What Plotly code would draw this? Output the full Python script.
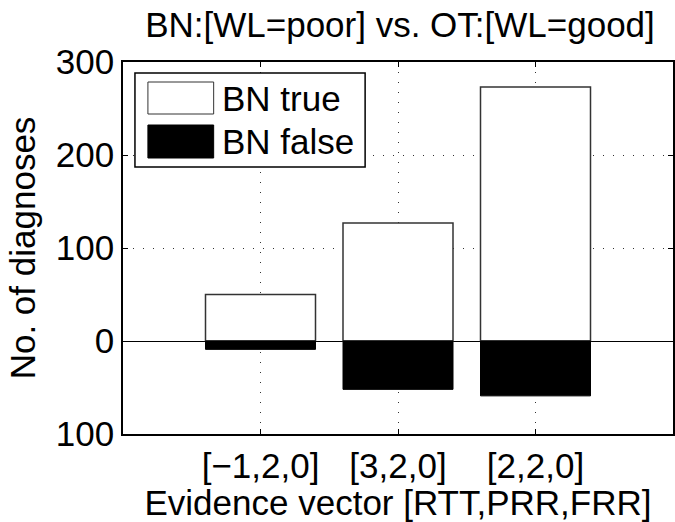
import plotly.graph_objects as go

# ---- data ----
categories = ["[\u22121,2,0]", "[3,2,0]", "[2,2,0]"]
x_positions = [1, 2, 3]
bn_true = [50, 127, 273]
bn_false = [-9, -52, -59]
y_tickvals = [-100, 0, 100, 200, 300]
y_ticktext = ["100", "0", "100", "200", "300"]
legend_labels = ["BN true", "BN false"]

# ---- layout constants (pixels) ----
W, H = 675, 522
L, R, T, B = 123, 0, 62, 88
FONT = "Liberation Sans, Arial, Helvetica, sans-serif"
FS = 35


def px(xp):
    return (xp - L) / (W - L - R)


def py(yp):
    return (H - B - yp) / (H - T - B)


fig = go.Figure()
fig.add_trace(go.Bar(
    x=x_positions, y=bn_true, width=0.8, name=legend_labels[0],
    marker=dict(color="white", line=dict(color="#333333", width=1.5)),
    showlegend=False,
))
fig.add_trace(go.Bar(
    x=x_positions, y=bn_false, width=0.8, name=legend_labels[1],
    marker=dict(color="black", line=dict(color="black", width=1)),
    showlegend=False,
))

fig.update_layout(
    width=W, height=H,
    margin=dict(l=L, r=R, t=T, b=B, pad=0),
    paper_bgcolor="white", plot_bgcolor="white",
    barmode="relative",
    font=dict(family=FONT, size=FS, color="black"),
    title=dict(text="BN:[WL=poor] vs. OT:[WL=good]", x=px(401), xref="paper",
               xanchor="center", y=1 - 25 / H, yref="container", yanchor="middle",
               font=dict(family=FONT, size=FS, color="black")),
)

fig.update_xaxes(
    range=[0, 4], tickvals=x_positions, ticktext=categories,
    showgrid=True, gridcolor="#333333", gridwidth=1, griddash="1px,9px",
    showline=True, linecolor="black", linewidth=1.5, mirror="ticks",
    ticks="inside", ticklen=5, tickwidth=1, tickcolor="black",
    zeroline=False,
    tickfont=dict(family=FONT, size=FS),
    title=dict(text="Evidence vector [RTT,PRR,FRR]", standoff=0,
               font=dict(family=FONT, size=FS)),
)
fig.update_yaxes(
    range=[-100, 300], tickvals=y_tickvals, ticktext=y_ticktext,
    showgrid=True, gridcolor="#333333", gridwidth=1, griddash="1px,9px",
    showline=True, linecolor="black", linewidth=1.5, mirror="ticks",
    ticks="inside", ticklen=5, tickwidth=1, tickcolor="black",
    zeroline=True, zerolinecolor="black", zerolinewidth=1,
    tickfont=dict(family=FONT, size=FS),
    title=dict(text="No. of diagnoses", standoff=10,
               font=dict(family=FONT, size=FS)),
)

# ---- legend drawn manually (MATLAB-style large swatches) ----
shapes = [
    dict(type="rect", xref="paper", yref="paper", x0=px(135), x1=px(366),
         y0=py(167), y1=py(73), line=dict(color="black", width=1.5),
         fillcolor="white", layer="above"),
    dict(type="rect", xref="paper", yref="paper", x0=px(148), x1=px(214),
         y0=py(114), y1=py(82), line=dict(color="#333333", width=1),
         fillcolor="white", layer="above"),
    dict(type="rect", xref="paper", yref="paper", x0=px(148), x1=px(214),
         y0=py(158), y1=py(125), line=dict(color="black", width=1),
         fillcolor="black", layer="above"),
]
annotations = [
    dict(text=legend_labels[0], xref="paper", yref="paper", x=px(220), y=py(98),
         xanchor="left", yanchor="middle", showarrow=False,
         font=dict(family=FONT, size=FS, color="black")),
    dict(text=legend_labels[1], xref="paper", yref="paper", x=px(220), y=py(141),
         xanchor="left", yanchor="middle", showarrow=False,
         font=dict(family=FONT, size=FS, color="black")),
]
fig.update_layout(shapes=shapes, annotations=annotations)

fig.write_html("out.html")
